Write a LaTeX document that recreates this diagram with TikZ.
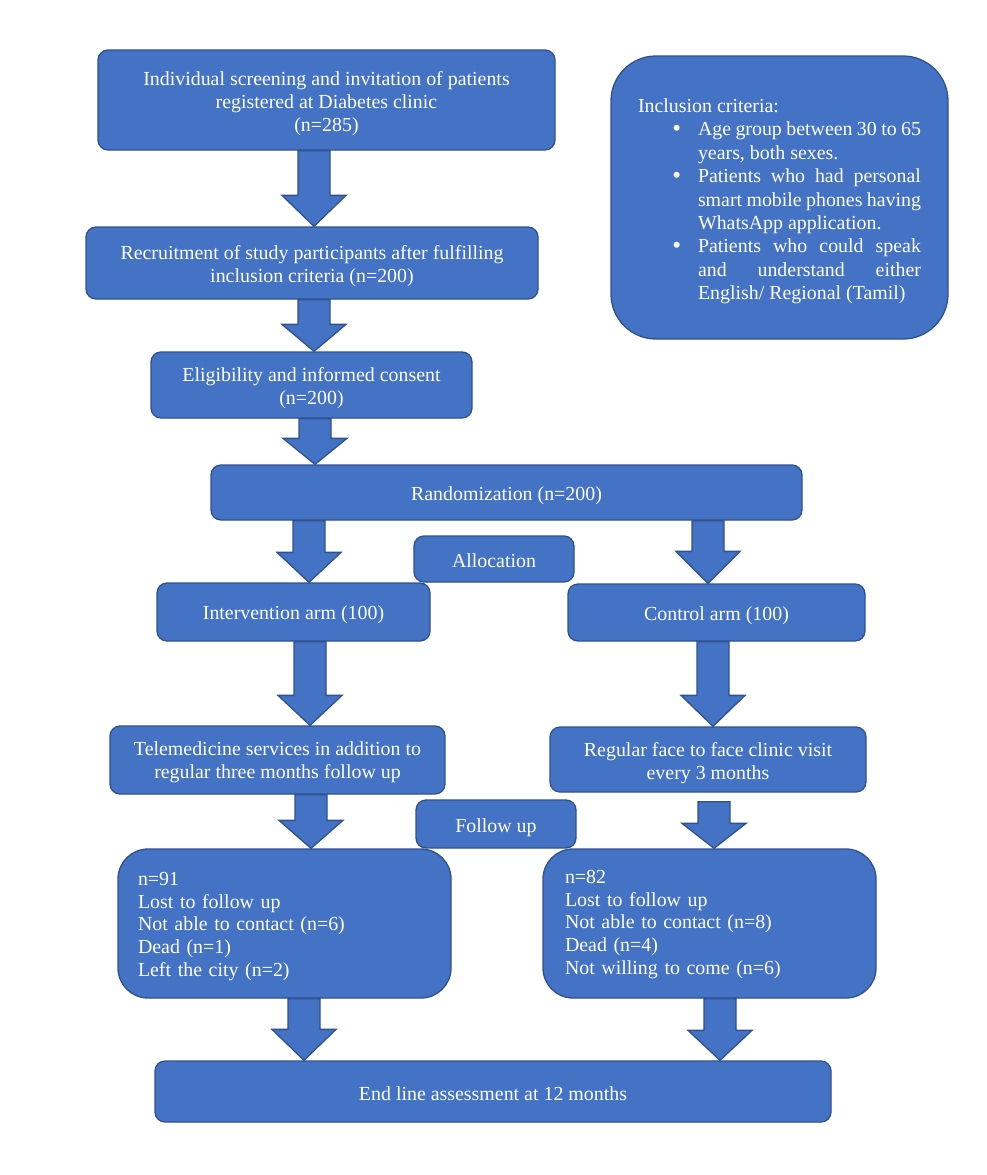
\documentclass[tikz,border=0pt]{standalone}
\usepackage{fontspec}
\setmainfont{Liberation Serif}
\usetikzlibrary{calc}
\definecolor{boxfill}{HTML}{4472C4}
\definecolor{boxline}{HTML}{2F528F}
% #1 x centre, #2 from node, #3 to node, #4 head length, #5 start offset
\newcommand\blockarr[5]{%
  \draw[barrowstyle] let \p1=(#2.south), \p2=(#3.north) in
    (#1-16,{\y1-#5}) -- (#1+16,{\y1-#5}) -- (#1+16,{\y2+#4}) -- (#1+32,{\y2+#4})
    -- (#1,\y2) -- (#1-32,{\y2+#4}) -- (#1-16,{\y2+#4}) -- cycle;}
\newcommand\bul{\llap{{\fontsize{25}{25}\selectfont\raisebox{-0.5pt}{•}}\hspace{17pt}}}
\newcommand\dn[2][3pt]{\raisebox{-#1}[\height][\depth]{#2}}
\begin{document}
\begin{tikzpicture}[x=1pt,y=-1pt,
  box/.style={draw=boxline, fill=boxfill, line width=1.3pt, rounded corners=10pt,
    text=white, align=center, inner sep=0pt, font=\fontsize{19.9}{22.9}\selectfont},
  barrowstyle/.style={draw=boxline, fill=boxfill, line width=1.3pt, line join=miter}]
\useasboundingbox (0,0) rectangle (986,1175);
\fill[white] (0,0) rectangle (986,1175);

\node[box, minimum width=457pt, minimum height=100pt] (b1) at (326.5,100)
  {\dn[4pt]{Individual screening and invitation of patients}\\\dn[4pt]{registered at Diabetes clinic}\\\dn[4pt]{(n=285)}};
\node[box, minimum width=452pt, minimum height=72pt] (b2) at (312,263)
  {\dn{Recruitment of study participants after fulfilling}\\\dn{inclusion criteria (n=200)}};
\node[box, minimum width=321pt, minimum height=66pt] (b3) at (311.5,385)
  {\dn{Eligibility and informed consent}\\\dn{(n=200)}};
\node[box, minimum width=591pt, minimum height=55pt] (rnd) at (506.5,492.5)
  {\dn{Randomization (n=200)}};
\node[box, minimum width=160pt, minimum height=46pt] (alloc) at (494,559)
  {\dn[1.5pt]{Allocation}};
\node[box, minimum width=273pt, minimum height=58pt] (int) at (293.5,612)
  {\dn{Intervention arm (100)}};
\node[box, minimum width=297pt, minimum height=57pt] (ctl) at (716.5,612.5)
  {\dn{Control arm (100)}};
\node[box, minimum width=335pt, minimum height=68pt] (tele) at (277.5,760)
  {\dn[2pt]{Telemedicine services in addition to}\\\dn[2pt]{regular three months follow up}};
\node[box, minimum width=316pt, minimum height=65pt] (reg) at (708,759.5)
  {\dn[3.5pt]{Regular face to face clinic visit}\\\dn[3.5pt]{every 3 months}};
\node[box, minimum width=160pt, minimum height=48pt] (fu) at (496,824)
  {\dn[3.5pt]{Follow up}};
\node[box, rounded corners=30pt, minimum width=333pt, minimum height=149pt,
  text width=293pt, inner xsep=20pt, align=left] (n91) at (284.5,923.5)
  {\dn{n=91}\\\dn{Lost to follow up}\\\dn{Not able to contact (n=6)}\\\dn{Dead (n=1)}\\\dn{Left the city (n=2)}};
\node[box, rounded corners=30pt, minimum width=333pt, minimum height=149pt,
  text width=289pt, inner xsep=22pt, align=left] (n82) at (709.5,923.5)
  {\dn[1pt]{n=82}\\\dn[1pt]{Lost to follow up}\\\dn[1pt]{Not able to contact (n=8)}\\\dn[1pt]{Dead (n=4)}\\\dn[1pt]{Not willing to come (n=6)}};
\node[box, minimum width=676pt, minimum height=61pt] (end) at (493,1091.5)
  {\dn[2pt]{End line assessment at 12 months}};
\node[box, rounded corners=45pt, minimum width=337pt, minimum height=283pt,
  text width=283pt, inner xsep=27pt, align=justify,
  font=\fontsize{19.9}{23.4}\selectfont] (inc) at (779.5,197.5)
  {\rule{0pt}{21.5pt}Inclusion criteria:\par
   \leftskip=60pt
   \noindent\bul Age group between 30 to 65\linebreak years, both sexes.\par
   \noindent\bul Patients who had personal\linebreak smart mobile phones having\linebreak WhatsApp application.\par
   \noindent\bul Patients who could speak\linebreak and understand either\linebreak English/ Regional (Tamil)\par};

\blockarr{314}{b1}{b2}{31}{0}
\blockarr{314}{b2}{b3}{27}{0}
\blockarr{315}{b3}{rnd}{26}{0}
\blockarr{309}{rnd}{int}{30}{0}
\blockarr{708}{rnd}{ctl}{32}{0}
\blockarr{310}{int}{tele}{30}{0}
\blockarr{713}{ctl}{reg}{31}{0}
\blockarr{311}{tele}{n91}{28}{0}
\blockarr{714}{reg}{n82}{25}{9}
\blockarr{304}{n91}{end}{31}{0}
\blockarr{720}{n82}{end}{30}{0}
\end{tikzpicture}
\end{document}
